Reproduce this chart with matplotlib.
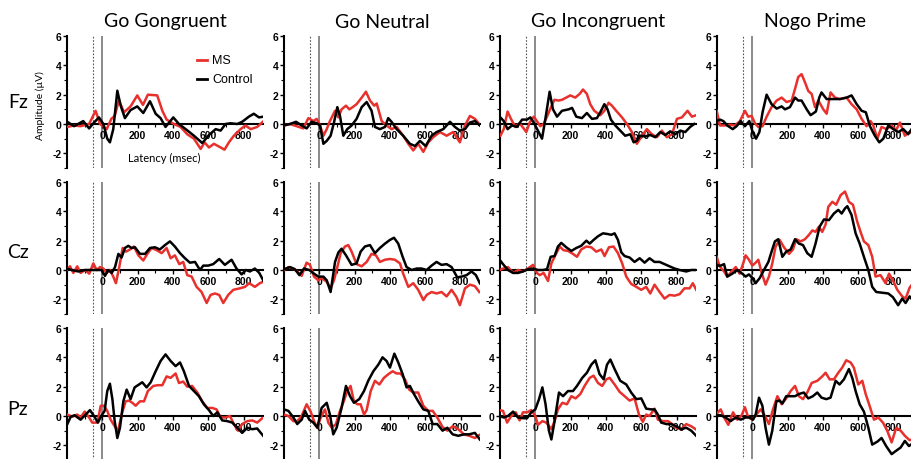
import matplotlib.pyplot as plt
from matplotlib.ticker import FixedLocator

# ERP waveforms, (latency ms, amplitude uV)
conditions = ['Go Gongruent', 'Go Neutral', 'Go Incongruent', 'Nogo Prime']
sites = ['Fz', 'Cz', 'Pz']
x_ticks = [0, 200, 400, 600, 800]
y_ticks = [-2, 0, 2, 4, 6]

fz_congruent_ms = [(-198, -0.2), (-160, -0.1), (-123, -0.15), (-75, 0), (-38, 0.9), (-13, 0), (25, -0.35),
                   (51, 0.35), (70, 0.55), (94, 1.6), (123, 0.8), (160, 1.2), (198, 1.95), (230, 1.3),
                   (258, 2.0), (311, 1.95), (340, 0.9), (364, 0.3), (406, 0), (443, -0.2), (481, -0.7),
                   (519, -1.0), (557, -1.7), (579, -1.25), (604, -1.6), (632, -1.35), (670, -1.6),
                   (692, -1.75), (717, -1.25), (745, -0.8), (783, -0.35), (811, -0.1), (840, -0.35),
                   (877, -0.2), (909, 0.15)]
fz_congruent_ctrl = [(-198, 0.15), (-160, -0.15), (-108, 0.2), (-75, -0.3), (-47, 0.1), (-19, 0.45), (6, 0),
                     (28, -1.0), (43, -1.25), (62, -0.35), (85, 2.27), (104, 1.25), (128, 0.4), (160, 0.95),
                     (198, 1.2), (232, 0.75), (270, 1.55), (302, 0.7), (330, 0.4), (358, -0.2), (402, 0.45),
                     (434, 0), (472, -0.35), (519, -0.8), (566, -1.3), (604, -0.75), (642, -0.35),
                     (670, -0.45), (698, 0), (726, 0.05), (764, 0), (792, 0.15), (830, 0.5), (858, 0.7),
                     (887, 0.45), (912, 0.5)]

fz_neutral_ms = [(-200, -0.1), (-166, 0), (-128, -0.15), (-91, -0.3), (-62, 0.4), (-34, 0.2), (-15, 0.35),
                 (4, -0.1), (23, -0.8), (42, -0.35), (60, 0.2), (89, 0.9), (108, 0.45), (126, 1.0),
                 (151, 1.25), (170, 1.0), (189, 1.15), (211, 1.35), (240, 1.8), (264, 2.2), (287, 1.6),
                 (311, 1.25), (325, 1.4), (353, 0.2), (381, -0.1), (409, -0.35), (438, -0.2), (475, -0.8),
                 (504, -1.35), (532, -1.8), (560, -1.35), (589, -1.9), (617, -1.25), (645, -0.9),
                 (683, -0.55), (721, -0.8), (758, -0.55), (796, -1.25), (825, -0.1), (853, 0.55),
                 (881, 0.35), (906, 0)]
fz_neutral_ctrl = [(-200, -0.1), (-166, 0), (-132, 0.15), (-100, -0.1), (-72, -0.3), (-43, 0.15), (-15, 0.05),
                   (4, -0.1), (23, -1.35), (42, -1.15), (64, -0.8), (83, 0.1), (102, 1.15), (117, 0.55),
                   (136, -0.8), (158, -0.35), (183, -0.1), (211, 0.35), (240, 1.15), (268, 1.5), (296, 0.9),
                   (315, -0.2), (343, -0.35), (372, -0.2), (390, 0.4), (409, 0.15), (438, -0.35),
                   (475, -0.8), (513, -1.35), (542, -1.5), (570, -1.15), (602, -1.5), (636, -0.8),
                   (664, -0.55), (702, -0.35), (740, 0.15), (768, -0.2), (796, -0.45), (825, -0.35),
                   (853, 0.1), (881, 0.2), (909, -0.1)]

fz_incongruent_ms = [(-198, -0.8), (-179, -0.35), (-157, 0.85), (-138, 0.35), (-113, -0.2), (-89, 0.05),
                     (-66, -0.3), (-51, -0.55), (-32, 0.1), (-9, 0.5), (9, 0.2), (28, -0.15), (47, 0),
                     (66, 0.5), (89, 1.15), (108, 1.65), (132, 1.6), (151, 1.65), (175, 1.8), (198, 1.95),
                     (226, 1.8), (251, 2.05), (270, 2.35), (292, 2.05), (311, 1.35), (334, 0.9), (368, 0.6),
                     (391, 0.9), (415, 1.45), (434, 1.25), (458, 0.9), (491, 0.45), (519, 0), (547, -0.55),
                     (575, -1.35), (604, -0.8), (632, -0.35), (660, -0.7), (689, -0.9), (717, -0.45),
                     (745, -0.9), (774, -0.7), (802, 0.35), (830, 0.45), (862, 0.9), (887, 0.5), (911, 0.6)]
fz_incongruent_ctrl = [(-198, 0.45), (-179, 0.2), (-157, -0.35), (-132, -0.1), (-104, -0.2), (-75, 0.3),
                       (-47, 0.3), (-28, 0.45), (-9, 0.1), (19, -0.55), (38, -1.0), (57, 0.35), (81, 2.2),
                       (100, 1.0), (123, 0.5), (151, 0.9), (189, 1.0), (208, 1.1), (232, 0.5), (264, 0.4),
                       (292, 0.75), (321, 0.35), (349, 0.4), (368, 0.8), (391, 1.35), (409, 1.0), (428, 0.3),
                       (453, -0.1), (481, -0.45), (509, -0.8), (538, -0.7), (557, -1.25), (575, -1.15),
                       (594, -0.8), (623, -0.85), (651, -0.75), (679, -0.9), (708, -0.55), (736, -0.75),
                       (764, -0.5), (792, -0.7), (821, -0.45), (849, -0.55), (877, -0.2), (900, 0)]

fz_nogo_ms = [(-202, 0.9), (-183, -0.1), (-155, -0.1), (-126, -0.05), (-98, -0.1), (-70, 0.2), (-42, 0.9),
              (-23, 0.5), (-4, 0.55), (15, 0.05), (34, -0.2), (58, -0.15), (81, 0.5), (109, 1.15),
              (138, 1.6), (166, 1.8), (194, 1.5), (223, 1.6), (242, 2.4), (260, 3.2), (279, 3.4),
              (298, 2.85), (317, 2.25), (336, 2.05), (355, 1.15), (374, 1.6), (402, 1.0), (421, 0.7),
              (443, 2.15), (468, 1.8), (496, 1.7), (534, 1.8), (562, 1.35), (591, 1.0), (619, 0.35),
              (647, -0.15), (670, 0.2), (685, -0.1), (708, -1.0), (732, -0.2), (760, -0.35), (789, -0.1),
              (813, -0.45), (836, 0.1), (864, -0.8), (889, -0.55), (904, -0.6)]
fz_nogo_ctrl = [(-202, 0.2), (-183, 0.3), (-164, 0.2), (-142, -0.1), (-111, -0.35), (-89, -0.15), (-66, 0.2),
                (-42, -0.15), (-17, 0.2), (2, -0.55), (21, -1.0), (40, -0.55), (58, 0.8), (81, 2.0),
                (109, 1.35), (138, 1.05), (166, 1.2), (185, 1.0), (213, 1.15), (242, 1.8), (260, 1.6),
                (279, 1.6), (308, 1.0), (330, 0.6), (360, 0.85), (379, 1.8), (392, 2.15), (421, 1.7),
                (458, 1.7), (496, 1.7), (534, 1.8), (562, 1.95), (591, 1.35), (619, 0.9), (643, 0.8),
                (666, -0.15), (694, -0.8), (719, -1.25), (742, -1.0), (770, -0.1), (798, -0.35),
                (826, -0.55), (855, -0.35), (883, -0.7), (902, -0.35)]

cz_congruent_ms = [(-202, 0), (-183, 0.25), (-164, -0.2), (-142, 0.25), (-123, -0.2), (-98, 0), (-74, -0.25),
                   (-51, 0.45), (-32, 0), (-13, 0.2), (6, 0.1), (25, -0.2), (43, 0), (62, -0.45), (77, -0.9),
                   (96, 0.2), (115, 1.5), (134, 1.25), (157, 1.4), (179, 1.6), (204, 1.0), (232, 0.65),
                   (255, 1.1), (279, 1.5), (308, 1.35), (336, 1.15), (364, 1.5), (387, 0.8), (411, 1.0),
                   (436, 0.4), (458, 0.55), (481, -0.35), (506, -0.45), (534, -1.15), (562, -1.5),
                   (591, -2.25), (613, -1.7), (638, -1.6), (662, -1.7), (685, -2.25), (713, -1.7),
                   (742, -1.35), (779, -1.25), (808, -1.15), (832, -0.9), (864, -1.15), (892, -0.9),
                   (911, -0.8)]
cz_congruent_ctrl = [(-202, 0.1), (-174, 0), (-136, -0.1), (-98, 0), (-51, 0), (-23, 0), (-4, 0), (15, -0.4),
                     (34, 0), (53, -0.2), (72, 0.2), (91, 1.1), (109, 0.85), (128, 1.5), (147, 1.65),
                     (166, 1.5), (185, 1.55), (213, 1.1), (242, 1.1), (270, 1.5), (298, 1.55), (326, 1.4),
                     (355, 1.7), (383, 1.95), (411, 1.6), (440, 1.15), (468, 0.8), (496, 0.5), (525, 0.55),
                     (553, 0), (572, 0.3), (600, 0.3), (628, 0.4), (662, 0.75), (694, 0.35), (732, 0.7),
                     (760, 0.1), (789, -0.3), (813, 0), (836, -0.1), (864, 0.1), (889, -0.2), (911, -0.7)]

cz_neutral_ms = [(-200, 0), (-175, 0.2), (-147, 0.1), (-125, -0.1), (-100, -0.4), (-72, 0.5), (-53, 0.35),
                 (-30, -0.45), (-6, -0.7), (13, -0.55), (42, -0.8), (64, -1.25), (83, -0.7), (102, 0.2),
                 (121, 1.15), (145, 1.6), (164, 1.7), (183, 1.25), (211, 0.4), (240, 0.25), (268, 0.55),
                 (296, 1.1), (321, 1.0), (343, 0.55), (372, 0.7), (400, 0.75), (428, 0.7), (457, 0.45),
                 (475, -0.25), (504, -1.15), (532, -0.9), (560, -1.35), (589, -2.05), (608, -1.7),
                 (636, -1.5), (664, -1.6), (692, -1.5), (721, -1.8), (749, -1.35), (777, -1.85),
                 (796, -2.4), (825, -1.25), (853, -1.0), (881, -1.1), (906, -1.5)]
cz_neutral_ctrl = [(-200, 0.05), (-166, 0.2), (-138, 0.05), (-113, -0.35), (-87, 0.1), (-57, 0), (-30, -0.25),
                   (-6, -0.45), (23, -0.45), (42, -0.7), (64, -1.5), (89, 0.55), (108, 1.2), (126, 1.45),
                   (151, 1.0), (183, 0.35), (211, 0.45), (234, 1.25), (258, 1.6), (287, 1.7), (315, 1.15),
                   (343, 1.5), (372, 1.8), (400, 2.05), (423, 2.2), (447, 1.8), (472, 0.9), (494, 0.2),
                   (523, 0), (551, 0.1), (579, 0.1), (608, 0), (636, 0.3), (664, 0.55), (692, 0.35),
                   (721, 0.4), (749, 0.2), (781, -0.5), (806, -0.45), (834, -0.35), (862, -0.1),
                   (887, -0.35), (909, -0.9)]

cz_incongruent_ms = [(-202, 0), (-183, 0.1), (-155, 0.2), (-126, -0.2), (-98, 0), (-70, -0.1), (-42, 0.1),
                     (-13, 0.35), (9, -0.2), (25, -0.35), (47, -0.2), (72, -0.75), (91, 0.45), (109, 0.9),
                     (138, 1.6), (160, 1.35), (185, 1.3), (213, 1.1), (236, 0.9), (260, 1.4), (289, 1.6),
                     (317, 1.55), (345, 1.25), (374, 1.4), (392, 0.95), (417, 1.55), (443, 1.6), (468, 1.15),
                     (492, 0.45), (515, -0.45), (543, -0.95), (572, -1.15), (600, -1.35), (628, -1.15),
                     (651, -1.6), (675, -1.0), (704, -1.5), (732, -1.95), (760, -1.7), (789, -1.75),
                     (817, -1.65), (845, -1.25), (874, -1.25), (892, -0.9), (911, -1.35)]
cz_incongruent_ctrl = [(-202, 0.7), (-183, 0.4), (-155, 0), (-126, -0.2), (-98, -0.2), (-70, -0.1),
                       (-42, 0.05), (-13, 0.1), (15, 0), (43, 0), (66, 0.05), (87, 0.9), (109, 0.95),
                       (128, 1.6), (147, 1.85), (175, 1.55), (204, 1.3), (232, 1.5), (260, 1.65), (289, 2.0),
                       (308, 1.8), (330, 2.05), (355, 2.3), (383, 2.5), (411, 2.45), (430, 2.4), (449, 2.5),
                       (468, 2.05), (487, 1.2), (506, 0.95), (534, 0.85), (562, 0.55), (591, 0.8), (619, 0.5),
                       (647, 0.8), (675, 0.55), (704, 0.55), (732, 0.4), (760, 0.25), (789, 0.1), (817, 0),
                       (855, -0.1), (883, 0), (911, 0)]

cz_nogo_ms = [(-202, 0.9), (-185, 0.25), (-160, -0.1), (-142, -0.45), (-117, -0.1), (-94, 0.2), (-72, -0.25),
              (-53, 0.4), (-38, 1.0), (-19, 0.7), (0, 0.3), (19, 0.5), (34, 0.7), (53, -0.2), (75, -1.0),
              (94, -0.45), (113, 0.45), (132, 1.6), (155, 2.05), (179, 1.55), (208, 1.1), (230, 1.4),
              (249, 2.1), (274, 1.95), (298, 2.1), (321, 2.4), (340, 2.7), (358, 2.6), (377, 2.95),
              (396, 2.6), (415, 3.1), (430, 4.3), (453, 4.65), (475, 4.45), (500, 5.1), (525, 5.35),
              (547, 4.65), (570, 4.45), (594, 3.3), (613, 2.6), (632, 1.95), (657, 1.7), (679, 0.9),
              (698, -0.45), (726, -0.35), (755, -0.9), (774, -0.25), (796, -0.7), (821, -1.35),
              (849, -1.8), (868, -1.95), (891, -1.2), (904, -1.0)]
cz_nogo_ctrl = [(-202, 0.3), (-179, 0.3), (-160, 0.4), (-142, -0.45), (-113, -0.25), (-85, 0), (-57, -0.25),
                (-38, -0.45), (-19, -0.3), (0, -0.55), (19, -0.9), (42, -0.55), (66, 0), (91, 0.55),
                (109, 1.25), (128, 1.95), (147, 2.1), (170, 0.9), (192, 1.25), (217, 1.4), (242, 2.1),
                (264, 1.8), (287, 1.7), (311, 1.15), (336, 0.9), (358, 1.8), (381, 2.95), (406, 3.45),
                (434, 3.4), (462, 3.85), (487, 4.1), (506, 3.85), (525, 4.2), (538, 4.35), (562, 3.75),
                (585, 2.5), (608, 1.8), (632, 0.9), (657, 0), (679, -1.15), (702, -1.5), (736, -1.55),
                (770, -1.6), (796, -1.85), (826, -2.4), (849, -1.95), (868, -2.25), (891, -1.8),
                (904, -2.0)]

pz_congruent_ms = [(-198, 0.1), (-170, -0.05), (-142, 0.1), (-123, -0.1), (-100, 0.3), (-75, -0.1),
                   (-57, -0.45), (-28, -0.45), (-9, 0.7), (9, 0.7), (28, 0.35), (47, -0.25), (70, -0.7),
                   (89, -1.0), (113, 0.25), (132, 1.0), (151, 1.05), (170, 0.9), (189, 0.7), (213, 1.0),
                   (236, 1.0), (258, 1.7), (289, 2.05), (315, 2.1), (340, 2.1), (364, 2.7), (387, 2.6),
                   (415, 2.9), (434, 2.25), (458, 2.35), (481, 2.0), (509, 2.05), (538, 1.6), (566, 1.0),
                   (594, 0.55), (623, 0.55), (647, 0.45), (670, -0.1), (698, -0.1), (723, 0), (745, -0.55),
                   (768, -1.0), (792, -0.55), (821, -0.35), (849, -0.3), (877, -0.45), (906, -0.15)]
pz_congruent_ctrl = [(-198, -0.55), (-179, -0.05), (-157, 0.05), (-123, -0.25), (-94, 0.1), (-70, 0.4),
                     (-47, 0), (-25, -0.45), (-6, 0), (13, 0.35), (28, 1.7), (43, 2.2), (57, 1.15),
                     (70, -0.35), (85, -1.5), (100, -0.8), (119, 1.0), (138, 1.8), (160, 1.15), (183, 1.95),
                     (208, 2.15), (226, 2.3), (251, 1.95), (274, 2.3), (302, 3.05), (330, 3.75), (358, 4.2),
                     (387, 3.75), (415, 3.4), (440, 3.65), (462, 3.05), (491, 2.05), (519, 1.7), (547, 1.35),
                     (575, 0.8), (604, 0.4), (628, 0), (651, 0.25), (679, -0.3), (708, -0.35), (736, -0.45),
                     (764, -0.8), (792, -1.15), (821, -0.8), (849, -0.9), (877, -0.85), (911, -1.35)]

pz_neutral_ms = [(-200, 0.1), (-175, 0), (-147, -0.35), (-125, -0.35), (-100, 0), (-72, 0.8), (-49, 0.3),
                 (-30, -0.35), (-11, -0.8), (8, -0.1), (32, 0.45), (51, -0.45), (70, -0.8), (94, -0.55),
                 (117, 0.35), (140, 1.05), (158, 1.7), (177, 2.05), (196, 1.0), (215, 0.8), (234, 0.8),
                 (253, 0.1), (268, 0.4), (291, 1.7), (315, 2.4), (340, 2.15), (366, 2.6), (391, 2.85),
                 (415, 3.05), (438, 2.9), (460, 2.9), (485, 2.5), (509, 1.8), (532, 1.6), (560, 1.6),
                 (589, 0.7), (617, 0.35), (642, 0.35), (668, -0.1), (698, -0.75), (725, -1.0), (755, -0.7),
                 (787, -0.9), (819, -1.25), (849, -1.35), (881, -1.5), (906, -1.3)]
pz_neutral_ctrl = [(-200, 0.45), (-175, 0.35), (-147, -0.1), (-125, -0.55), (-100, -0.25), (-81, 0.35),
                   (-57, -0.25), (-34, -0.45), (-11, -0.8), (13, 0.55), (42, 0.9), (60, 0.1), (79, -1.25),
                   (98, -0.8), (126, 0.55), (151, 2.05), (174, 1.35), (196, 0.9), (226, 1.15), (253, 1.7),
                   (277, 2.4), (306, 3.05), (334, 3.5), (358, 4.0), (381, 3.75), (400, 3.3), (425, 4.25),
                   (447, 3.65), (472, 2.85), (494, 1.95), (513, 2.05), (536, 1.5), (560, 1.0), (589, 0.45),
                   (617, 0.35), (642, -0.55), (668, -0.55), (698, -1.0), (725, -0.8), (755, -1.25),
                   (787, -1.35), (819, -1.25), (849, -1.25), (881, -1.15), (909, -1.6)]

pz_incongruent_ms = [(-202, 0.4), (-183, 0.35), (-160, -0.45), (-136, 0), (-111, 0.25), (-89, -0.3),
                     (-70, 0.25), (-47, 0.25), (-23, 0.4), (0, 0), (15, -0.6), (40, -0.35), (62, -0.45),
                     (91, -0.9), (109, -0.35), (128, 0.45), (153, 0.9), (179, 0.8), (204, 1.35), (228, 1.2),
                     (255, 1.5), (279, 2.05), (308, 2.6), (330, 2.75), (355, 2.25), (379, 2.05), (402, 2.5),
                     (421, 2.6), (449, 2.15), (477, 1.65), (506, 1.35), (534, 1.05), (562, 1.2), (587, 0.1),
                     (609, -0.4), (628, 0.1), (647, 0), (675, 0.5), (694, -0.25), (723, -0.35), (751, -0.35),
                     (775, -0.55), (798, -0.8), (826, -0.9), (855, -0.55), (883, -0.7), (908, -0.9)]
pz_incongruent_ctrl = [(-202, 0), (-179, -0.1), (-155, 0), (-126, 0.3), (-98, -0.1), (-70, -0.15),
                       (-47, -0.15), (-23, 0.25), (0, 0.45), (21, 1.15), (40, 1.95), (58, 0.8), (77, -1.0),
                       (91, -1.6), (109, -0.35), (134, 1.6), (157, 1.35), (185, 1.7), (213, 1.7), (236, 2.05),
                       (266, 2.6), (292, 2.95), (317, 3.5), (340, 3.8), (364, 2.85), (387, 2.5), (406, 3.5),
                       (425, 3.85), (449, 3.2), (481, 2.4), (515, 2.15), (543, 1.6), (572, 1.15), (600, 1.2),
                       (628, 0.5), (657, 0.45), (675, 0.45), (694, 0.1), (713, -0.45), (742, -0.55),
                       (770, -0.55), (798, -0.7), (826, -0.9), (855, -0.8), (883, -1.0), (911, -1.35)]

pz_nogo_ms = [(-202, 0.15), (-179, 0.45), (-160, -0.1), (-136, -0.6), (-109, 0.25), (-85, -0.25), (-60, 0.05),
              (-42, 0.6), (-23, -0.1), (0, -0.25), (23, 0.1), (47, 0.45), (72, 0), (94, -0.55), (117, 0.45),
              (142, 1.35), (166, 0.8), (189, 1.15), (217, 1.7), (242, 2.05), (264, 1.35), (287, 1.15),
              (311, 1.6), (336, 2.25), (368, 2.4), (396, 2.7), (415, 2.95), (438, 2.5), (462, 2.5),
              (487, 2.95), (509, 3.3), (532, 3.8), (557, 3.65), (575, 3.3), (600, 2.15), (623, 2.4),
              (642, 1.5), (664, 0.7), (689, -0.25), (713, -0.1), (740, -0.45), (764, -1.0), (789, -1.8),
              (815, -0.8), (840, -1.0), (864, -1.35), (891, -1.65), (904, -1.6)]
pz_nogo_ctrl = [(-202, 0.05), (-179, 0.05), (-151, -0.1), (-123, -0.35), (-94, -0.1), (-66, -0.25),
                (-38, -0.1), (-15, -0.1), (4, -0.25), (19, 0.1), (38, 1.25), (57, 0.7), (75, -0.8),
                (94, -1.95), (113, -1.0), (136, 1.0), (155, 1.05), (170, 0.85), (192, 1.35), (217, 1.35),
                (242, 1.35), (264, 1.5), (292, 1.6), (317, 1.2), (343, 1.35), (368, 1.6), (392, 1.25),
                (419, 1.15), (443, 1.25), (472, 2.4), (494, 2.15), (519, 2.5), (547, 3.2), (566, 2.6),
                (585, 1.7), (608, 0.8), (632, 0.3), (657, -0.8), (679, -1.95), (708, -1.75), (732, -1.5),
                (758, -2.05), (789, -2.6), (811, -2.4), (840, -2.15), (864, -1.7), (887, -2.05),
                (898, -1.95)]

ms_series = [[fz_congruent_ms, fz_neutral_ms, fz_incongruent_ms, fz_nogo_ms],
             [cz_congruent_ms, cz_neutral_ms, cz_incongruent_ms, cz_nogo_ms],
             [pz_congruent_ms, pz_neutral_ms, pz_incongruent_ms, pz_nogo_ms]]
ctrl_series = [[fz_congruent_ctrl, fz_neutral_ctrl, fz_incongruent_ctrl, fz_nogo_ctrl],
               [cz_congruent_ctrl, cz_neutral_ctrl, cz_incongruent_ctrl, cz_nogo_ctrl],
               [pz_congruent_ctrl, pz_neutral_ctrl, pz_incongruent_ctrl, pz_nogo_ctrl]]

RED = '#e8302c'
W, H = 912, 460
col_left = [67, 284, 500, 717]   # pixel x of each y axis
row_top = [37, 183, 329]         # pixel y of the "6" tick
panel_w, panel_h = 196, 132

tick_font = {'family': 'Liberation Sans', 'weight': 'bold', 'size': 7.5}
title_font = 'Lato'

fig = plt.figure(figsize=(W / 100, H / 100), dpi=100)

for r in range(3):
    for c in range(4):
        ax = fig.add_axes([col_left[c] / W, 1 - (row_top[r] + panel_h) / H, panel_w / W, panel_h / H])
        ax.set_xlim(-200, 910)
        ax.set_ylim(-3, 6)
        ax.patch.set_alpha(0)
        for s in ['top', 'right']:
            ax.spines[s].set_visible(False)
        ax.spines['bottom'].set_position(('data', 0))
        ax.spines['bottom'].set_linewidth(1.5)
        ax.spines['left'].set_linewidth(1.5)

        ax.axvline(-50, color='#555555', lw=0.8, ls=(0, (1.5, 1.5)), zorder=1)
        ax.axvline(0, color='#777777', lw=1.2, zorder=1)

        for series, color in [(ms_series[r][c], RED), (ctrl_series[r][c], 'black')]:
            t = [p[0] for p in series]
            v = [p[1] for p in series]
            ax.plot(t, v, color=color, lw=1.8, solid_joinstyle='round', zorder=3)

        ax.xaxis.set_major_locator(FixedLocator(x_ticks))
        ax.xaxis.set_minor_locator(FixedLocator([-200, -100, 100, 300, 500, 700]))
        ax.yaxis.set_major_locator(FixedLocator(y_ticks))
        ax.yaxis.set_minor_locator(FixedLocator([-3, -1, 1, 3, 5]))
        ax.tick_params(axis='both', which='major', length=3, width=1, pad=1)
        ax.tick_params(axis='both', which='minor', length=2, width=0.8)
        ax.set_xticklabels([str(x) for x in x_ticks], fontdict=tick_font)
        ax.set_yticklabels([str(y) for y in y_ticks], fontdict=tick_font)

for c, name in enumerate(conditions):
    fig.text((col_left[c] + 98) / W, 1 - 22 / H, name, ha='center', va='center',
             family=title_font, fontsize=14)

row_label_y = [102, 253, 410]
for r, name in enumerate(sites):
    fig.text(18 / W, 1 - row_label_y[r] / H, name, ha='center', va='center',
             family=title_font, fontsize=14)

fig.text(40 / W, 1 - 106 / H, 'Amplitude (µV)', rotation=90, ha='center', va='center',
         family=title_font, fontsize=7.5)
fig.text(164 / W, 1 - 158 / H, 'Latency (msec)', ha='center', va='center',
         family=title_font, fontsize=8)

# legend
fig.lines.append(plt.Line2D([197 / W, 207 / W], [1 - 61 / H, 1 - 61 / H], color=RED, lw=2,
                            transform=fig.transFigure))
fig.lines.append(plt.Line2D([197 / W, 207 / W], [1 - 80 / H, 1 - 80 / H], color='black', lw=2,
                            transform=fig.transFigure))
fig.text(212 / W, 1 - 61 / H, 'MS', ha='left', va='center', family='Liberation Sans', fontsize=9)
fig.text(212 / W, 1 - 80 / H, 'Control', ha='left', va='center', family='Liberation Sans', fontsize=9)

fig.savefig('out.png', dpi=100)
